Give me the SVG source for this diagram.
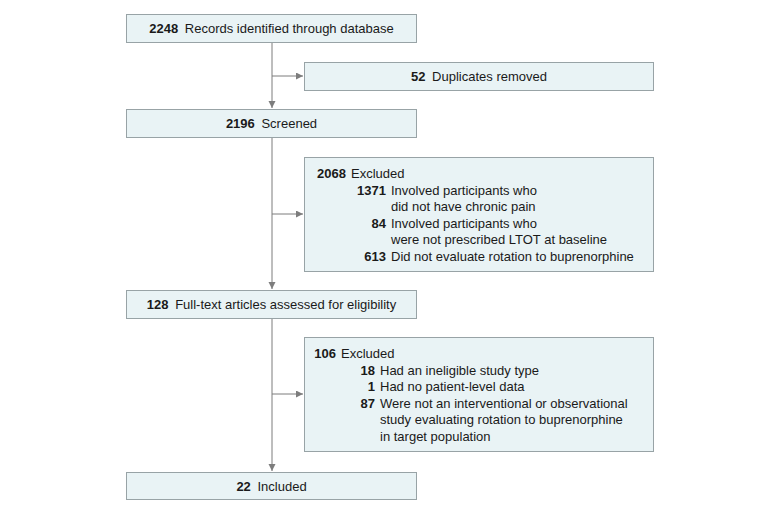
<svg xmlns="http://www.w3.org/2000/svg" width="780" height="512" viewBox="0 0 780 512">
<defs>
<marker id="ah" markerUnits="userSpaceOnUse" markerWidth="8" markerHeight="8" refX="7" refY="3.5" orient="auto">
<path d="M0,0 L7,3.5 L0,7 Z" fill="#7d7d7d"/>
</marker>
<style>
.box{fill:#e9f3f5;stroke:#98a3a6;stroke-width:1}
text{font-family:"Liberation Sans",Arial,sans-serif;font-size:13px;fill:#1a1a1a}
.b{font-weight:bold}
.c{text-anchor:middle}
.e{text-anchor:end}
.ln{fill:none;stroke:#7d7d7d;stroke-width:1}
</style>
</defs>
<rect width="780" height="512" fill="#ffffff"/>
<g id="connectors">
<line class="ln" x1="272" y1="42" x2="272" y2="108" marker-end="url(#ah)"/>
<line class="ln" x1="272" y1="76" x2="303" y2="76" marker-end="url(#ah)"/>
<line class="ln" x1="272" y1="137" x2="272" y2="289" marker-end="url(#ah)"/>
<line class="ln" x1="272" y1="214" x2="303" y2="214" marker-end="url(#ah)"/>
<line class="ln" x1="272" y1="318" x2="272" y2="471" marker-end="url(#ah)"/>
<line class="ln" x1="272" y1="394" x2="303" y2="394" marker-end="url(#ah)"/>
</g>
<g id="records">
<rect class="box" x="126.5" y="14.5" width="290" height="28"/>
<text class="c" x="271.5" y="33"><tspan class="b">2248</tspan> <tspan dx="3">Records identified through database</tspan></text>
</g>
<g id="duplicates">
<rect class="box" x="304.5" y="62.5" width="349" height="28"/>
<text class="c" x="479" y="81"><tspan class="b">52</tspan> <tspan dx="3">Duplicates removed</tspan></text>
</g>
<g id="screened">
<rect class="box" x="126.5" y="109.5" width="290" height="28"/>
<text class="c" x="271.5" y="128"><tspan class="b">2196</tspan> <tspan dx="3">Screened</tspan></text>
</g>
<g id="excluded1">
<rect class="box" x="304.5" y="157.5" width="349" height="114"/>
<text class="b e" x="346" y="178">2068</text>
<text x="351" y="178">Excluded</text>
<text class="b e" x="386" y="194.5">1371</text>
<text x="391" y="194.5">Involved participants who</text>
<text x="391" y="211">did not have chronic pain</text>
<text class="b e" x="386" y="227.5">84</text>
<text x="391" y="227.5">Involved participants who</text>
<text x="391" y="244">were not prescribed LTOT at baseline</text>
<text class="b e" x="386" y="260.5">613</text>
<text x="391" y="260.5">Did not evaluate rotation to buprenorphine</text>
</g>
<g id="fulltext">
<rect class="box" x="126.5" y="290.5" width="290" height="28"/>
<text class="c" x="271.5" y="309"><tspan class="b">128</tspan> <tspan dx="3">Full-text articles assessed for eligibility</tspan></text>
</g>
<g id="excluded2">
<rect class="box" x="304.5" y="337.5" width="349" height="114"/>
<text class="b e" x="336" y="358">106</text>
<text x="341" y="358">Excluded</text>
<text class="b e" x="375" y="374.5">18</text>
<text x="380" y="374.5">Had an ineligible study type</text>
<text class="b e" x="375" y="391">1</text>
<text x="380" y="391">Had no patient-level data</text>
<text class="b e" x="375" y="407.5">87</text>
<text x="380" y="407.5">Were not an interventional or observational</text>
<text x="380" y="424">study evaluating rotation to buprenorphine</text>
<text x="380" y="440.5">in target population</text>
</g>
<g id="included">
<rect class="box" x="126.5" y="472.5" width="290" height="27"/>
<text class="c" x="271.5" y="490.5"><tspan class="b">22</tspan> <tspan dx="3">Included</tspan></text>
</g>
</svg>
